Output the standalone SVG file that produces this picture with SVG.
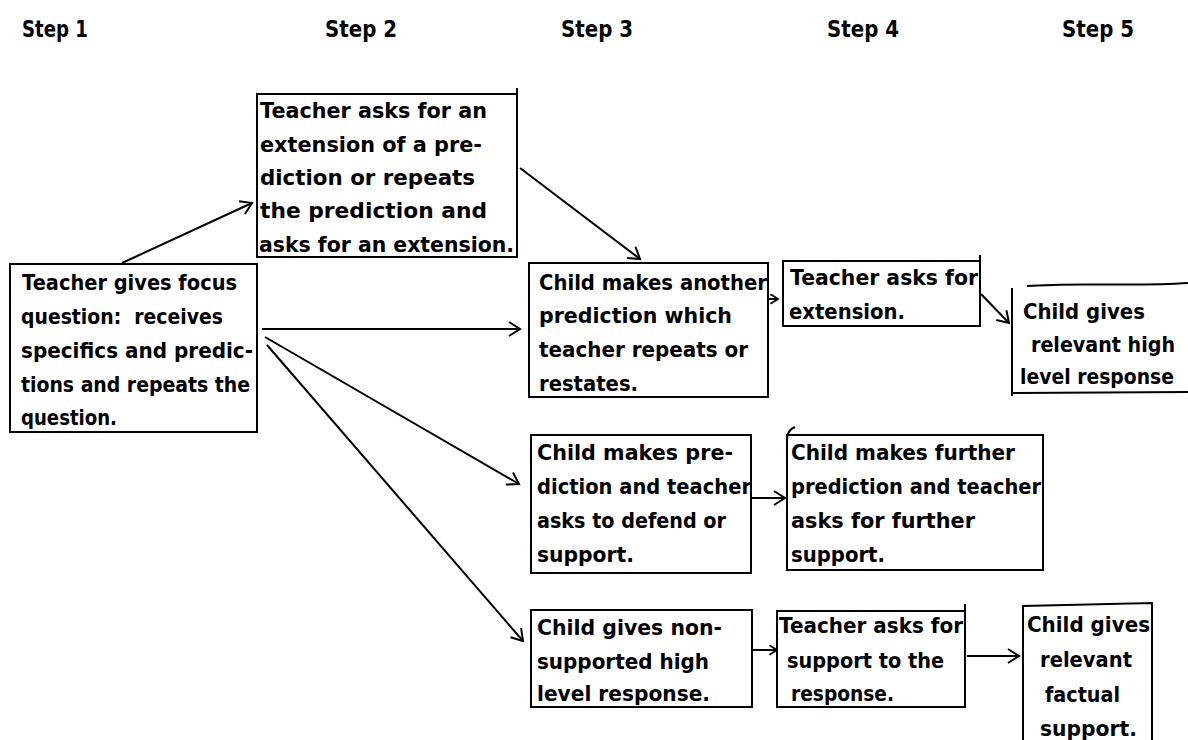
<svg xmlns="http://www.w3.org/2000/svg" width="1188" height="740" viewBox="0 0 1188 740">
<style>
  .bg { fill: #ffffff; }
  .box { fill: none; stroke: #000; stroke-width: 2; stroke-linejoin: miter; }
  .t { font-family: "DejaVu Sans", "Liberation Sans", sans-serif; font-weight: bold; font-size: 22px; fill: #000; }
  .h { font-family: "DejaVu Sans", "Liberation Sans", sans-serif; font-weight: bold; font-size: 23px; fill: #000; }
  .c { fill: none; stroke: #000; stroke-width: 2; }
</style>
<defs>
  <marker id="arr" viewBox="0 0 16 16" refX="14" refY="8" markerWidth="16" markerHeight="16" markerUnits="userSpaceOnUse" orient="auto">
    <path d="M3,1 L14,8 L3,15" fill="none" stroke="#000" stroke-width="2"/>
  </marker>
  <marker id="arrs" viewBox="0 0 16 16" refX="14" refY="8" markerWidth="11" markerHeight="11" markerUnits="userSpaceOnUse" orient="auto">
    <path d="M3,1 L14,8 L3,15" fill="none" stroke="#000" stroke-width="2.6"/>
  </marker>
</defs>
<rect class="bg" x="0" y="0" width="1188" height="740"/>

<g id="headers">
  <text class="h" x="22" y="37" textLength="66" lengthAdjust="spacingAndGlyphs">Step 1</text>
  <text class="h" x="325" y="37" textLength="72" lengthAdjust="spacingAndGlyphs">Step 2</text>
  <text class="h" x="561" y="37" textLength="72" lengthAdjust="spacingAndGlyphs">Step 3</text>
  <text class="h" x="827" y="37" textLength="72" lengthAdjust="spacingAndGlyphs">Step 4</text>
  <text class="h" x="1062" y="37" textLength="72" lengthAdjust="spacingAndGlyphs">Step 5</text>
</g>

<g id="connectors">
  <path class="c" d="M122,263 L252,203" marker-end="url(#arr)"/>
  <path class="c" d="M520,168 L640,259" marker-end="url(#arr)"/>
  <path class="c" d="M262,329 L520,329" marker-end="url(#arr)"/>
  <path class="c" d="M265,337 L519,484" marker-end="url(#arr)"/>
  <path class="c" d="M267,345 L523,641" marker-end="url(#arr)"/>
  <path class="c" d="M768,299 L778,299" marker-end="url(#arrs)"/>
  <path class="c" d="M981,294 L1009,323" marker-end="url(#arr)"/>
  <path class="c" d="M752,498 L785,498" marker-end="url(#arr)"/>
  <path class="c" d="M753,650 L777,650" marker-end="url(#arrs)"/>
  <path class="c" d="M967,656 L1019,656" marker-end="url(#arr)"/>
</g>

<g id="node1">
  <rect class="box" x="10" y="264" width="247" height="168"/>
  <text class="t" x="22" y="290" textLength="215" lengthAdjust="spacingAndGlyphs">Teacher gives focus</text>
  <text class="t" x="21" y="324" textLength="202" lengthAdjust="spacingAndGlyphs" xml:space="preserve">question:  receives</text>
  <text class="t" x="21" y="358" textLength="232" lengthAdjust="spacingAndGlyphs">specifics and predic-</text>
  <text class="t" x="21" y="392" textLength="229" lengthAdjust="spacingAndGlyphs">tions and repeats the</text>
  <text class="t" x="21" y="425" textLength="96" lengthAdjust="spacingAndGlyphs">question.</text>
</g>

<g id="node2">
  <rect class="box" x="257" y="94" width="260" height="163"/>
  <path class="box" d="M517,88 L517,94"/>
  <text class="t" x="260" y="118" textLength="227" lengthAdjust="spacingAndGlyphs">Teacher asks for an</text>
  <text class="t" x="260" y="152" textLength="222" lengthAdjust="spacingAndGlyphs">extension of a pre-</text>
  <text class="t" x="260" y="185" textLength="215" lengthAdjust="spacingAndGlyphs">diction or repeats</text>
  <text class="t" x="260" y="218" textLength="227" lengthAdjust="spacingAndGlyphs">the prediction and</text>
  <text class="t" x="259" y="252" textLength="255" lengthAdjust="spacingAndGlyphs">asks for an extension.</text>
</g>

<g id="node3">
  <rect class="box" x="529" y="263" width="239" height="134"/>
  <text class="t" x="539" y="290" textLength="228" lengthAdjust="spacingAndGlyphs">Child makes another</text>
  <text class="t" x="539" y="323" textLength="193" lengthAdjust="spacingAndGlyphs">prediction which</text>
  <text class="t" x="539" y="357" textLength="209" lengthAdjust="spacingAndGlyphs">teacher repeats or</text>
  <text class="t" x="539" y="391" textLength="99" lengthAdjust="spacingAndGlyphs">restates.</text>
</g>

<g id="node4">
  <rect class="box" x="783" y="261" width="197" height="65"/>
  <path class="box" d="M980,255 L980,261"/>
  <text class="t" x="790" y="285" textLength="188" lengthAdjust="spacingAndGlyphs">Teacher asks for</text>
  <text class="t" x="789" y="319" textLength="116" lengthAdjust="spacingAndGlyphs">extension.</text>
</g>

<g id="node5">
  <path class="box" d="M1012,288 L1012,396 M1012,393 L1188,392 M1027,286 C1080,282 1130,287 1188,283"/>
  <text class="t" x="1023" y="319" textLength="122" lengthAdjust="spacingAndGlyphs">Child gives</text>
  <text class="t" x="1031" y="352" textLength="144" lengthAdjust="spacingAndGlyphs">relevant high</text>
  <text class="t" x="1020" y="384" textLength="154" lengthAdjust="spacingAndGlyphs">level response</text>
</g>

<g id="node6">
  <rect class="box" x="531" y="435" width="220" height="138"/>
  <text class="t" x="537" y="460" textLength="196" lengthAdjust="spacingAndGlyphs">Child makes pre-</text>
  <text class="t" x="537" y="494" textLength="214" lengthAdjust="spacingAndGlyphs">diction and teacher</text>
  <text class="t" x="537" y="528" textLength="189" lengthAdjust="spacingAndGlyphs">asks to defend or</text>
  <text class="t" x="537" y="562" textLength="97" lengthAdjust="spacingAndGlyphs">support.</text>
</g>

<g id="node7">
  <rect class="box" x="787" y="435" width="256" height="135"/>
  <path class="box" d="M787,440 Q787,430 795,427"/>
  <text class="t" x="791" y="460" textLength="224" lengthAdjust="spacingAndGlyphs">Child makes further</text>
  <text class="t" x="791" y="494" textLength="250" lengthAdjust="spacingAndGlyphs">prediction and teacher</text>
  <text class="t" x="791" y="528" textLength="184" lengthAdjust="spacingAndGlyphs">asks for further</text>
  <text class="t" x="791" y="562" textLength="94" lengthAdjust="spacingAndGlyphs">support.</text>
</g>

<g id="node8">
  <rect class="box" x="531" y="610" width="221" height="97"/>
  <text class="t" x="537" y="635" textLength="185" lengthAdjust="spacingAndGlyphs">Child gives non-</text>
  <text class="t" x="537" y="669" textLength="172" lengthAdjust="spacingAndGlyphs">supported high</text>
  <text class="t" x="537" y="701" textLength="173" lengthAdjust="spacingAndGlyphs">level response.</text>
</g>

<g id="node9">
  <rect class="box" x="777" y="611" width="188" height="96"/>
  <path class="box" d="M965,604 L965,611"/>
  <text class="t" x="779" y="633" textLength="184" lengthAdjust="spacingAndGlyphs">Teacher asks for</text>
  <text class="t" x="787" y="668" textLength="157" lengthAdjust="spacingAndGlyphs">support to the</text>
  <text class="t" x="791" y="701" textLength="103" lengthAdjust="spacingAndGlyphs">response.</text>
</g>

<g id="node10">
  <path class="box" d="M1023,740 L1023,606 L1152,603 L1152,740"/>
  <text class="t" x="1027" y="632" textLength="123" lengthAdjust="spacingAndGlyphs">Child gives</text>
  <text class="t" x="1040" y="667" textLength="92" lengthAdjust="spacingAndGlyphs">relevant</text>
  <text class="t" x="1045" y="702" textLength="75" lengthAdjust="spacingAndGlyphs">factual</text>
  <text class="t" x="1040" y="736" textLength="97" lengthAdjust="spacingAndGlyphs">support.</text>
</g>
</svg>
